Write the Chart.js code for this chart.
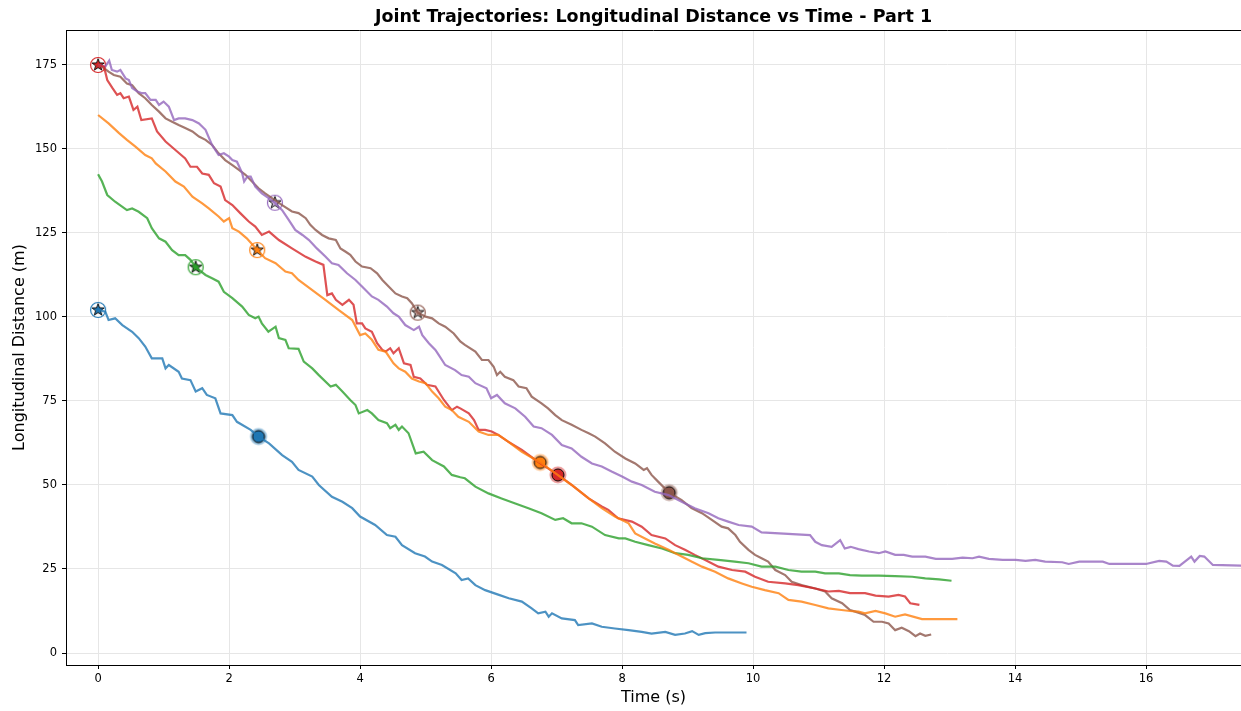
<!DOCTYPE html>
<html>
<head>
<meta charset="utf-8">
<script src="https://cdn.jsdelivr.net/npm/chart.js@4.4.0/dist/chart.umd.min.js"></script>
<style>
  body { margin: 0; background: #fff; }
  #wrap { width: 1241px; height: 711px; }
</style>
</head>
<body>
<div id="wrap"><canvas id="trajChart" width="1241" height="711"></canvas></div>
<script>
// [time (s), longitudinal distance (m)]
const blueTrack = [[0,102.1],[0.11,101.6],[0.16,99.1],[0.26,99.6],[0.37,97.6],[0.52,95.6],[0.62,93.7],[0.72,91.2],[0.82,87.7],[0.98,87.7],
  [1.03,84.7],[1.08,85.7],[1.23,83.7],[1.28,81.7],[1.41,81.2],[1.49,77.8],[1.59,78.8],[1.66,76.8],[1.79,75.8],[1.87,71.3],
  [2.05,70.8],[2.12,68.8],[2.33,66.4],[2.45,64.4],[2.61,62.4],[2.81,58.9],[2.96,56.9],[3.06,54.5],[3.27,52.5],[3.37,50.0],
  [3.57,46.5],[3.73,45.0],[3.88,43.1],[4.0,40.6],[4.23,38.1],[4.41,35.1],[4.54,34.6],[4.64,32.1],[4.84,29.7],[4.99,28.7],
  [5.1,27.2],[5.25,26.2],[5.46,23.7],[5.55,21.7],[5.65,22.2],[5.76,20.2],[5.91,18.7],[6.12,17.3],[6.27,16.3],[6.47,15.3],
  [6.62,13.3],[6.72,11.8],[6.83,12.3],[6.88,10.8],[6.93,11.8],[7.08,10.3],[7.28,9.8],[7.33,8.3],[7.54,8.8],[7.69,7.8],
  [7.89,7.3],[8.1,6.8],[8.3,6.3],[8.45,5.8],[8.66,6.3],[8.81,5.4],[8.96,5.8],[9.07,6.5],[9.17,5.4],[9.27,5.9],[9.42,6.1],[9.9,6.1]];

const orangeTrack = [[0,160.1],[0.16,157.6],[0.32,154.7],[0.44,152.7],[0.57,150.7],[0.72,148.2],[0.82,147.2],[0.88,145.7],[1.03,143.3],[1.18,140.3],
  [1.31,138.8],[1.44,135.8],[1.59,133.8],[1.69,132.3],[1.84,129.9],[1.92,128.4],[2.0,129.4],[2.05,126.4],[2.15,125.4],[2.27,123.4],
  [2.43,119.9],[2.55,117.5],[2.71,116.0],[2.86,113.5],[2.96,113.0],[3.06,111.0],[3.27,108.0],[3.47,105.1],[3.67,102.1],[3.88,99.1],
  [4.0,94.6],[4.08,95.1],[4.18,93.2],[4.28,90.2],[4.39,89.7],[4.51,86.2],[4.59,84.7],[4.69,83.7],[4.79,81.7],[4.9,80.8],
  [5.0,80.3],[5.1,77.8],[5.2,75.8],[5.3,73.3],[5.4,72.3],[5.5,70.3],[5.66,68.8],[5.81,65.9],[5.96,64.9],[6.11,64.9],
  [6.26,62.9],[6.47,59.9],[6.75,56.7],[6.98,53.5],[7.23,50.0],[7.49,46.0],[7.69,43.1],[7.89,40.6],[8.1,38.6],[8.2,35.6],
  [8.35,34.1],[8.5,32.6],[8.71,30.7],[8.91,28.7],[9.06,27.2],[9.22,25.7],[9.42,24.2],[9.62,22.2],[9.83,20.7],[9.98,19.7],
  [10.18,18.7],[10.39,17.8],[10.54,15.8],[10.74,15.3],[10.95,14.3],[11.15,13.3],[11.35,12.8],[11.48,12.5],[11.61,12.3],[11.71,11.8],
  [11.87,12.5],[12.02,11.8],[12.17,10.8],[12.32,11.5],[12.58,10.1],[13.12,10.1]];

const greenTrack = [[0,142.5],[0.06,140.3],[0.14,136.3],[0.26,134.3],[0.44,131.8],[0.52,132.3],[0.62,131.3],[0.75,129.4],[0.82,126.4],[0.93,123.4],
  [1.03,122.4],[1.13,119.9],[1.23,118.4],[1.33,118.4],[1.41,117.0],[1.49,114.8],[1.64,112.5],[1.74,111.5],[1.84,110.5],[1.92,107.5],
  [2.05,105.6],[2.2,103.1],[2.3,100.6],[2.4,99.6],[2.45,100.1],[2.5,98.1],[2.6,95.6],[2.71,97.1],[2.76,93.7],[2.86,93.2],
  [2.91,90.7],[3.06,90.5],[3.14,86.7],[3.27,84.7],[3.37,82.7],[3.55,79.3],[3.63,79.8],[3.73,77.8],[3.85,75.3],[3.93,73.8],
  [3.98,71.3],[4.11,72.3],[4.18,71.3],[4.28,69.3],[4.41,68.4],[4.46,66.9],[4.54,67.9],[4.59,66.4],[4.64,67.4],[4.74,65.4],
  [4.85,59.4],[4.97,59.9],[5.1,57.4],[5.28,55.5],[5.4,53.0],[5.53,52.3],[5.6,52.0],[5.76,49.5],[5.96,47.5],[6.16,46.0],
  [6.37,44.5],[6.57,43.1],[6.77,41.6],[6.98,39.6],[7.1,40.1],[7.23,38.6],[7.38,38.6],[7.54,37.6],[7.74,35.1],[7.95,34.1],
  [8.05,34.1],[8.2,33.1],[8.4,32.1],[8.61,31.1],[8.81,29.7],[9.01,29.2],[9.22,28.2],[9.47,27.7],[9.72,27.2],[9.93,26.7],
  [10.13,25.7],[10.34,25.7],[10.54,24.7],[10.74,24.2],[10.95,24.2],[11.1,23.7],[11.31,23.7],[11.48,23.2],[11.66,23.0],[11.92,23.0],
  [12.17,22.9],[12.43,22.7],[12.63,22.2],[12.84,21.9],[13.03,21.5]];

const redTrack = [[0,175],[0.09,174.5],[0.14,170.5],[0.22,168.1],[0.29,166.1],[0.34,166.6],[0.39,165.1],[0.47,165.6],[0.54,161.6],[0.6,162.6],
  [0.66,158.6],[0.82,159.1],[0.9,155.2],[1.03,152.2],[1.18,149.7],[1.33,147.2],[1.41,144.7],[1.51,144.7],[1.59,142.7],[1.69,142.3],
  [1.77,139.8],[1.87,138.8],[1.94,134.8],[2.05,133.3],[2.17,130.9],[2.3,128.4],[2.4,126.9],[2.5,124.4],[2.61,125.4],[2.76,122.9],
  [2.96,120.4],[3.17,117.9],[3.32,116.5],[3.44,115.5],[3.5,106.5],[3.57,107.0],[3.63,105.1],[3.73,103.6],[3.83,105.1],[3.9,103.6],
  [3.95,98.1],[4.03,98.1],[4.08,96.6],[4.18,95.6],[4.26,92.2],[4.34,90.2],[4.39,89.7],[4.46,90.7],[4.51,89.2],[4.59,90.7],
  [4.67,86.2],[4.77,85.7],[4.82,82.2],[4.92,81.7],[5.02,79.8],[5.15,79.3],[5.28,75.3],[5.4,72.3],[5.48,73.3],[5.53,72.8],
  [5.66,71.3],[5.74,69.3],[5.81,66.4],[5.91,66.4],[6.01,65.9],[6.11,64.9],[6.26,62.9],[6.47,60.4],[6.72,56.9],[7.02,53.0],
  [7.23,50.0],[7.49,46.0],[7.69,43.6],[7.79,42.6],[7.94,40.1],[8.15,39.1],[8.3,37.6],[8.45,35.1],[8.66,34.1],[8.81,32.1],
  [8.96,30.7],[9.11,29.2],[9.27,27.7],[9.47,25.7],[9.68,24.7],[9.88,24.2],[10.03,22.7],[10.23,21.2],[10.49,20.7],[10.69,20.2],
  [10.95,19.2],[11.15,18.3],[11.31,18.5],[11.48,17.8],[11.71,17.8],[11.87,17.1],[12.07,16.8],[12.22,17.3],[12.32,16.8],[12.4,14.8],[12.54,14.3]];

const purpleTrack = [[0,175],[0.11,174.5],[0.17,176.3],[0.21,173.5],[0.29,173.0],[0.34,173.5],[0.42,171.0],[0.47,170.5],[0.52,168.1],[0.6,167.1],
  [0.67,166.6],[0.72,166.6],[0.8,164.6],[0.88,164.6],[0.93,163.1],[1.0,164.1],[1.08,162.6],[1.16,158.6],[1.23,159.1],[1.33,159.1],
  [1.44,158.6],[1.54,157.6],[1.64,155.7],[1.74,151.2],[1.84,148.2],[1.92,148.7],[2.0,147.7],[2.05,146.7],[2.12,146.2],[2.2,142.8],
  [2.23,140.3],[2.28,141.8],[2.33,141.8],[2.4,138.8],[2.5,136.8],[2.61,135.3],[2.7,134.0],[2.81,131.8],[2.91,128.9],[3.01,125.9],
  [3.12,124.4],[3.22,122.9],[3.34,120.4],[3.47,118.0],[3.57,116.0],[3.67,115.5],[3.8,113.0],[3.93,111.0],[4.06,108.5],[4.18,106.1],
  [4.28,105.1],[4.41,103.1],[4.51,101.1],[4.59,100.1],[4.69,97.6],[4.82,96.1],[4.9,97.1],[4.95,94.6],[5.05,92.2],[5.15,90.2],
  [5.2,88.7],[5.3,85.7],[5.45,84.2],[5.55,82.7],[5.66,82.2],[5.76,80.3],[5.93,78.8],[6.0,75.8],[6.09,76.8],[6.21,74.3],
  [6.37,72.8],[6.52,70.3],[6.65,67.4],[6.77,66.9],[6.93,64.9],[7.08,61.9],[7.23,60.9],[7.38,58.4],[7.54,56.4],[7.69,55.5],
  [7.84,54.0],[8.0,52.5],[8.15,51.0],[8.3,50.0],[8.5,48.0],[8.71,47.0],[8.91,45.0],[9.11,43.1],[9.32,41.6],[9.47,40.1],
  [9.62,39.1],[9.78,38.1],[9.98,37.6],[10.13,35.9],[10.87,35.1],[10.95,33.1],[11.05,32.1],[11.2,31.6],[11.33,33.6],[11.4,31.1],
  [11.49,31.6],[11.61,30.9],[11.77,30.2],[11.92,29.7],[12.02,30.2],[12.17,29.2],[12.3,29.2],[12.43,28.7],[12.63,28.7],[12.79,28.0],
  [13.04,28.0],[13.2,28.4],[13.35,28.2],[13.45,28.7],[13.6,28.0],[13.81,27.7],[14.01,27.7],[14.16,27.4],[14.31,27.7],[14.46,27.2],
  [14.72,27.0],[14.82,26.5],[14.98,27.2],[15.34,27.2],[15.44,26.5],[16.0,26.5],[16.2,27.4],[16.31,27.2],[16.41,26.0],[16.51,25.9],
  [16.69,28.7],[16.74,27.2],[16.82,28.9],[16.89,28.7],[17.02,26.2],[17.47,26.0]];

const brownTrack = [[0,175],[0.06,174.5],[0.16,173.0],[0.24,172.0],[0.34,171.5],[0.44,169.5],[0.52,169.0],[0.62,166.6],[0.72,165.1],[0.82,163.1],
  [0.93,161.1],[1.03,159.1],[1.13,158.1],[1.23,157.1],[1.33,156.2],[1.44,155.2],[1.54,153.7],[1.64,152.7],[1.74,151.2],[1.84,148.7],
  [1.94,146.7],[2.05,145.2],[2.15,143.8],[2.25,142.3],[2.35,140.3],[2.45,138.3],[2.55,136.8],[2.66,135.3],[2.81,133.3],[2.96,131.4],
  [3.06,130.9],[3.17,129.4],[3.24,127.4],[3.32,125.9],[3.42,124.4],[3.52,123.4],[3.63,122.9],[3.7,120.4],[3.78,119.4],[3.85,118.5],
  [3.93,116.5],[4.03,115.0],[4.16,114.5],[4.26,113.0],[4.34,111.0],[4.44,109.0],[4.54,107.0],[4.64,106.1],[4.72,105.6],[4.79,104.1],
  [4.88,101.3],[5.0,100.1],[5.1,99.6],[5.2,98.1],[5.3,97.1],[5.43,95.1],[5.53,92.7],[5.6,91.7],[5.76,89.7],[5.86,87.2],
  [5.96,87.2],[6.04,85.2],[6.09,82.7],[6.14,83.7],[6.21,82.2],[6.34,81.2],[6.42,79.3],[6.54,78.8],[6.62,76.3],[6.77,74.3],
  [6.87,72.8],[6.98,70.8],[7.08,69.3],[7.23,67.9],[7.38,66.4],[7.49,65.4],[7.59,64.4],[7.74,62.4],[7.89,59.9],[8.05,57.9],
  [8.2,56.4],[8.33,54.5],[8.38,55.0],[8.45,53.0],[8.55,51.0],[8.72,47.7],[8.91,45.5],[9.06,43.1],[9.22,41.6],[9.37,39.6],
  [9.52,37.6],[9.62,37.1],[9.73,35.1],[9.8,33.1],[9.93,30.7],[10.03,29.2],[10.13,28.2],[10.23,27.2],[10.34,24.7],[10.49,23.2],
  [10.59,21.2],[10.74,20.2],[10.95,19.2],[11.1,18.3],[11.2,16.3],[11.36,14.8],[11.48,12.8],[11.56,12.3],[11.71,11.3],[11.84,9.3],
  [11.97,9.3],[12.07,8.8],[12.17,6.8],[12.27,7.5],[12.38,6.5],[12.48,5.0],[12.55,5.8],[12.63,5.1],[12.72,5.5]];

// event marks: stars = start of joint segment, dots = end
const startMarks = [[0,102.1],[2.43,119.9],[1.49,114.8],[2.7,134.0],[4.88,101.3],[0,175]];
const endMarks = [[2.45,64.4],[6.75,56.7],[7.02,53.0],[8.72,47.7]];

const xTicks = [0, 2, 4, 6, 8, 10, 12, 14, 16];
const yTicks = [0, 25, 50, 75, 100, 125, 150, 175];

const chartTitle = "Joint Trajectories: Longitudinal Distance vs Time - Part 1";

const colors = {
  blue: "#1f77b4", orange: "#ff7f0e", green: "#2ca02c",
  red: "#d62728", purple: "#9467bd", brown: "#8c564b"
};

function fade(hex, a) {
  const n = parseInt(hex.slice(1), 16);
  return "rgba(" + (n >> 16) + "," + ((n >> 8) & 255) + "," + (n & 255) + "," + a + ")";
}

function starMark(fill, ring) {
  const c = document.createElement("canvas");
  c.width = c.height = 20;
  const g = c.getContext("2d");
  g.beginPath();
  g.arc(10, 10, 7.5, 0, Math.PI * 2);
  g.fillStyle = "rgba(255,255,255,0.75)";
  g.fill();
  g.strokeStyle = ring;
  g.lineWidth = 1.2;
  g.stroke();
  g.beginPath();
  for (let i = 0; i < 10; i++) {
    const r = i % 2 ? 2.6 : 6.3;
    const a = -Math.PI / 2 + i * Math.PI / 5;
    g.lineTo(10 + r * Math.cos(a), 10 + r * Math.sin(a));
  }
  g.closePath();
  g.fillStyle = fill;
  g.fill();
  g.strokeStyle = "#000";
  g.lineWidth = 0.9;
  g.stroke();
  return c;
}

function dotMark(col) {
  const c = document.createElement("canvas");
  c.width = c.height = 22;
  const g = c.getContext("2d");
  g.beginPath();
  g.arc(11, 11, 8.5, 0, Math.PI * 2);
  g.fillStyle = fade(col, 0.45);
  g.fill();
  g.beginPath();
  g.arc(11, 11, 6, 0, Math.PI * 2);
  g.fillStyle = col;
  g.fill();
  g.strokeStyle = "#000";
  g.lineWidth = 1;
  g.stroke();
  return c;
}

const toXY = arr => arr.map(p => ({ x: p[0], y: p[1] }));

function track(data, col) {
  return {
    data: toXY(data),
    showLine: true,
    borderColor: fade(col, 0.8),
    borderWidth: 2.2,
    pointRadius: 0,
    tension: 0,
    fill: false
  };
}

const starStyles = [
  starMark(colors.blue, colors.blue),
  starMark(colors.orange, colors.orange),
  starMark(colors.green, colors.green),
  starMark("#c5b0d5", colors.purple),
  starMark("#c49c94", colors.brown),
  starMark(colors.red, colors.red)
];
const dotStyles = [dotMark(colors.blue), dotMark(colors.orange), dotMark(colors.red), dotMark(colors.brown)];

// top spine + title centred over the plot area, like matplotlib
const frameAndTitle = {
  id: "frameAndTitle",
  afterDraw(chart) {
    const a = chart.chartArea, ctx = chart.ctx;
    ctx.save();
    ctx.strokeStyle = "#000";
    ctx.lineWidth = 1;
    ctx.beginPath();
    ctx.moveTo(a.left, a.top + 0.5);
    ctx.lineTo(a.right, a.top + 0.5);
    ctx.stroke();
    ctx.fillStyle = "#000";
    ctx.font = "bold 17.5px 'DejaVu Sans', sans-serif";
    ctx.textAlign = "center";
    ctx.textBaseline = "middle";
    ctx.fillText(chartTitle, (a.left + a.right) / 2, 17);
    ctx.restore();
  }
};

Chart.defaults.font.family = "'DejaVu Sans', sans-serif";
Chart.defaults.color = "#000";

new Chart("trajChart", {
  type: "scatter",
  data: {
    datasets: [
      track(blueTrack, colors.blue),
      track(orangeTrack, colors.orange),
      track(greenTrack, colors.green),
      track(redTrack, colors.red),
      track(purpleTrack, colors.purple),
      track(brownTrack, colors.brown),
      { data: toXY(endMarks), pointStyle: dotStyles, pointRadius: 8, showLine: false },
      { data: toXY(startMarks), pointStyle: starStyles, pointRadius: 8, showLine: false }
    ]
  },
  options: {
    responsive: false,
    animation: false,
    layout: { padding: { top: 30, left: 0, right: 0, bottom: 0 }, autoPadding: false },
    plugins: {
      legend: { display: false },
      tooltip: { enabled: false },
      title: { display: false }
    },
    scales: {
      x: {
        type: "linear",
        min: -0.49,
        max: 17.45,
        afterBuildTicks: s => { s.ticks = xTicks.map(v => ({ value: v })); },
        afterFit: s => { s.height = 46; s.paddingLeft = 0; s.paddingRight = 0; },
        ticks: { font: { size: 11.5 }, color: "#000", padding: 3, maxRotation: 0 },
        grid: { color: "#e6e6e6", tickColor: "#000", tickLength: 4 },
        border: { color: "#000", width: 1 },
        title: { display: true, text: "Time (s)", font: { size: 16 }, padding: { top: 0, bottom: 4 } }
      },
      y: {
        type: "linear",
        min: -3.57,
        max: 185.4,
        afterBuildTicks: s => { s.ticks = yTicks.map(v => ({ value: v })); },
        afterFit: s => { s.width = 66; s.paddingTop = 0; s.paddingBottom = 0; },
        ticks: { font: { size: 11.5 }, color: "#000", padding: 5 },
        grid: { color: "#e6e6e6", tickColor: "#000", tickLength: 4 },
        border: { color: "#000", width: 1 },
        title: { display: true, text: "Longitudinal Distance (m)", font: { size: 16 }, padding: { top: 10, bottom: 0 } }
      }
    }
  },
  plugins: [frameAndTitle]
});
</script>
</body>
</html>
